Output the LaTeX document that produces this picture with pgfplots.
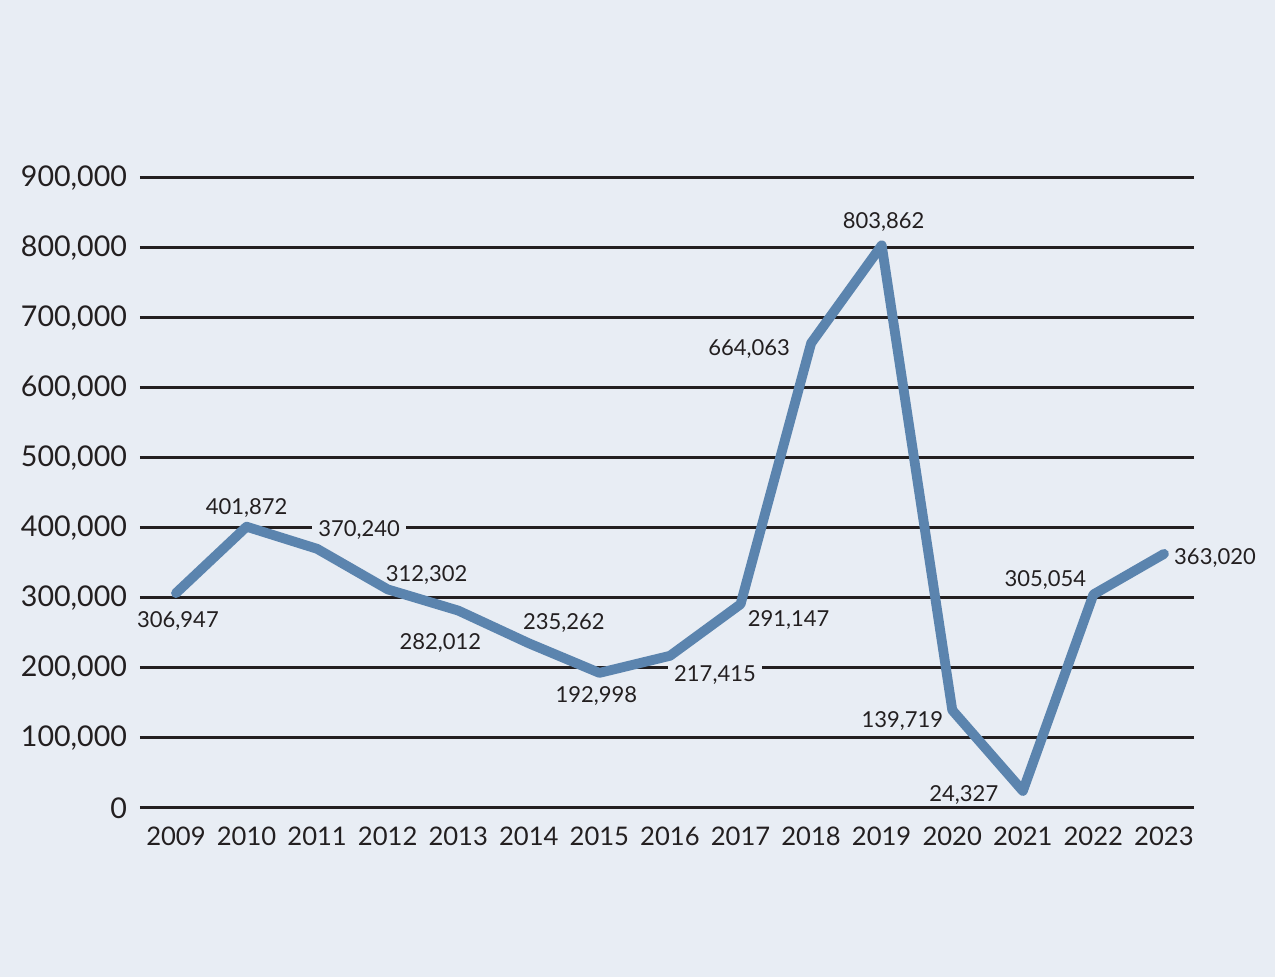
\documentclass[border=0pt]{standalone}
\usepackage{pgfplots}
\pgfplotsset{compat=1.18}
\usepackage{fontspec}
\setmainfont{Lato}
\definecolor{bg}{HTML}{E8EDF4}
\definecolor{ln}{HTML}{5B84AE}
\definecolor{tx}{HTML}{231F20}
\begin{document}
\begin{tikzpicture}
\fill[bg] (0,0) rectangle (637.5pt,488.5pt);
\begin{axis}[
  at={(70pt,84.5pt)}, anchor=south west,
  scale only axis, width=527pt, height=315pt,
  xmin=2008.49, xmax=2023.425, ymin=0, ymax=900000,
  clip=false,
  scaled y ticks=false,
  axis line style={draw=none},
  major tick length=0pt,
  xtick={2009,...,2023},
  xticklabels={2009,2010,2011,2012,2013,2014,2015,2016,2017,2018,2019,2020,2021,2022,2023},
  ytick={0,100000,...,900000},
  yticklabels={0,{100,000},{200,000},{300,000},{400,000},{500,000},{600,000},{700,000},{800,000},{900,000}},
  ymajorgrids, grid style={line width=1.5pt, color=tx},
  yticklabel style={font=\fontsize{14.3pt}{16pt}\selectfont, text=tx, anchor=east, xshift=-3pt},
  xticklabel style={font=\fontsize{12.8pt}{15pt}\selectfont, text=tx, yshift=-6pt},
]
\addplot[ln, line width=4.9pt, line join=round, line cap=round] coordinates {
(2009,306947) (2010,401872) (2011,370240) (2012,312302) (2013,282012)
(2014,235262) (2015,192998) (2016,217415) (2017,291147) (2018,664063)
(2019,803862) (2020,139719) (2021,24327) (2022,305054) (2023,363020)};
\tikzset{lab/.style={font=\fontsize{11pt}{13pt}\selectfont, text=tx, inner sep=1pt, yshift=-1.5pt}}
\node[lab] at ([shift={(1pt,-12.5pt)}]axis cs:2009,306947) {306,947};
\node[lab] at ([shift={(0pt,11pt)}]axis cs:2010,401872) {401,872};
\node[lab, fill=bg, inner xsep=3pt] at ([shift={(21pt,11pt)}]axis cs:2011,370240) {370,240};
\node[lab] at ([shift={(19.5pt,8.5pt)}]axis cs:2012,312302) {312,302};
\node[lab] at ([shift={(-9pt,-14.5pt)}]axis cs:2013,282012) {282,012};
\node[lab] at ([shift={(17.5pt,11.5pt)}]axis cs:2014,235262) {235,262};
\node[lab] at ([shift={(-1.5pt,-10pt)}]axis cs:2015,192998) {192,998};
\node[lab, fill=bg, inner xsep=3pt] at ([shift={(22.5pt,-8pt)}]axis cs:2016,217415) {217,415};
\node[lab] at ([shift={(24pt,-6.5pt)}]axis cs:2017,291147) {291,147};
\node[lab] at ([shift={(-31pt,-1.5pt)}]axis cs:2018,664063) {664,063};
\node[lab] at ([shift={(1pt,13pt)}]axis cs:2019,803862) {803,862};
\node[lab] at ([shift={(-25pt,-4pt)}]axis cs:2020,139719) {139,719};
\node[lab] at ([shift={(-29.5pt,-0.5pt)}]axis cs:2021,24327) {24,327};
\node[lab] at ([shift={(-24pt,8.5pt)}]axis cs:2022,305054) {305,054};
\node[lab] at ([shift={(25.5pt,-0.5pt)}]axis cs:2023,363020) {363,020};
\end{axis}
\end{tikzpicture}
\end{document}
